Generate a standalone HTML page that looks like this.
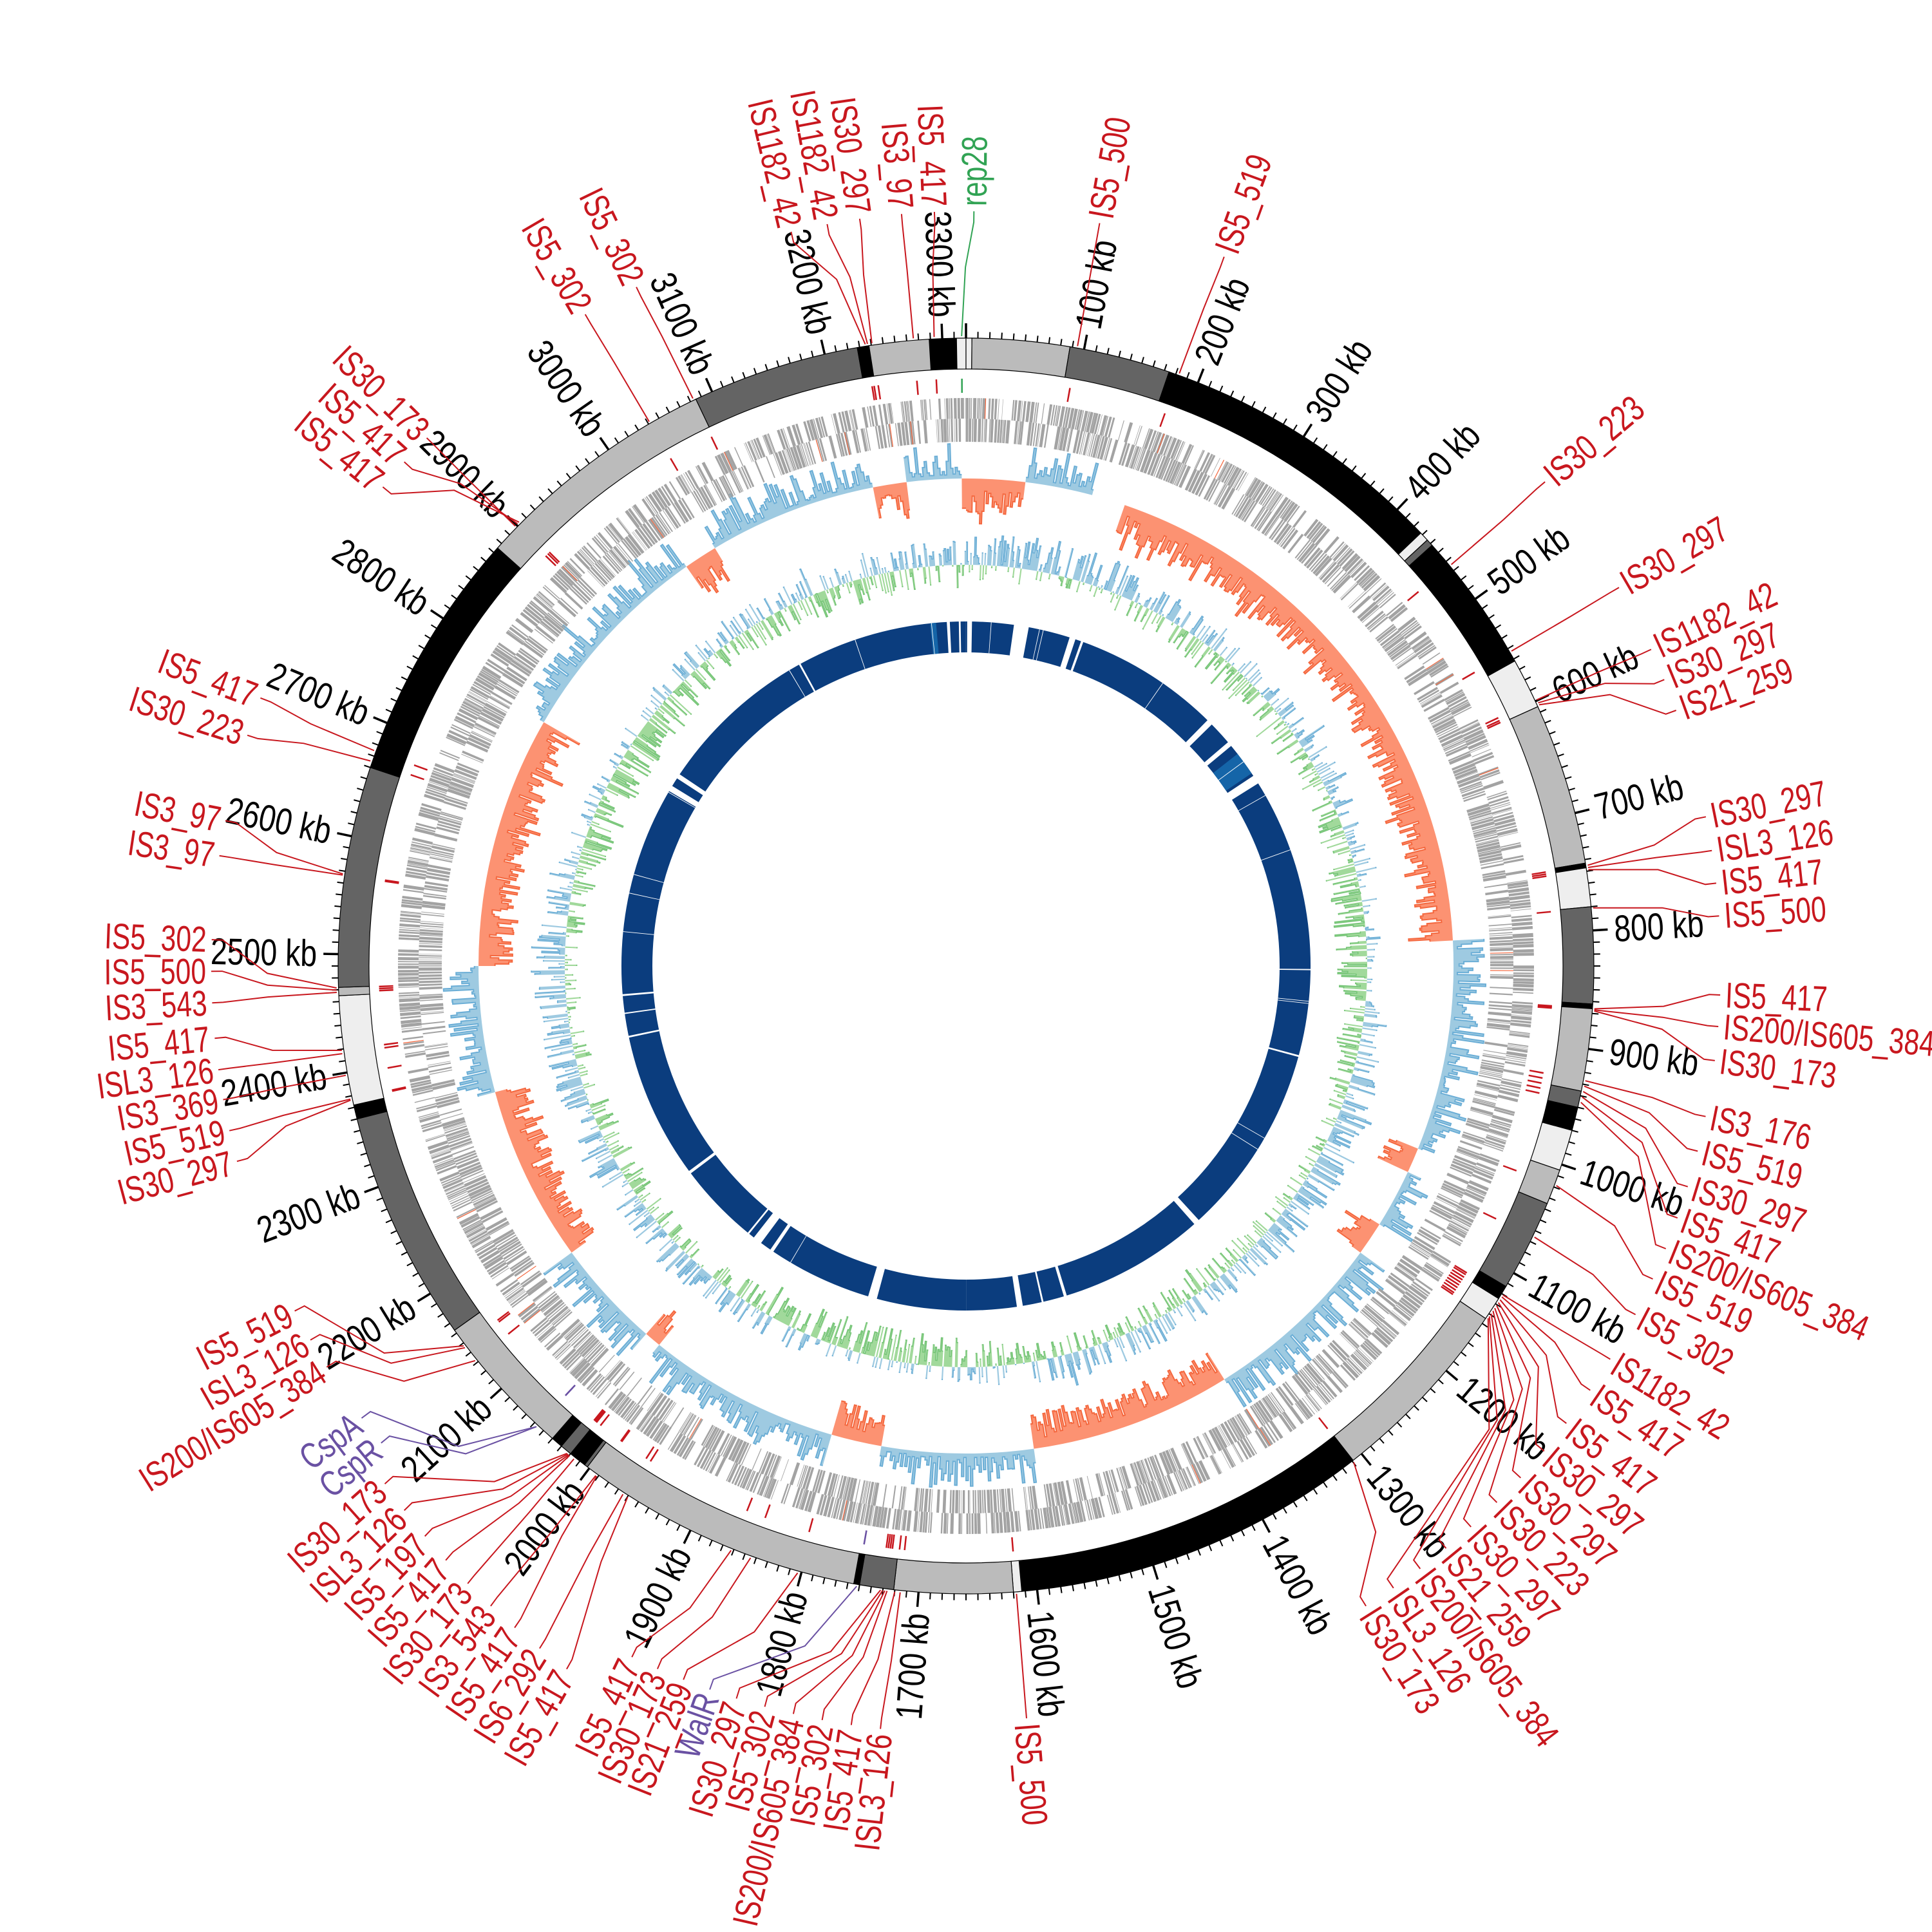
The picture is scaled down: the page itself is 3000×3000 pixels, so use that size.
<!DOCTYPE html>
<html><head><meta charset="utf-8">
<style>
html,body{margin:0;padding:0;background:#fff;}
svg{display:block;}
text{font-family:"Liberation Sans",sans-serif;}
</style></head>
<body>
<svg id="s" xmlns="http://www.w3.org/2000/svg" width="3000" height="3000" viewBox="0 0 3000 3000">
<rect width="3000" height="3000" fill="#fff"/>
</svg>
<script>
(function(){
var NS="http://www.w3.org/2000/svg";
var svg=document.getElementById('s');
var CX=1500,CY=1500,L=3320;
function rad(d){return d*Math.PI/180;}
function P(r,d){return [CX+r*Math.sin(rad(d)),CY-r*Math.cos(rad(d))];}
function f2(v){return v.toFixed(1);}
function el(tag,attrs,parent){var e=document.createElementNS(NS,tag);for(var k in attrs)e.setAttribute(k,attrs[k]);(parent||svg).appendChild(e);return e;}
function kb(k){return k/L*360;}
function sector(r1,r2,a1,a2){
  var p1=P(r2,a1),p2=P(r2,a2),p3=P(r1,a2),p4=P(r1,a1);var lg=(a2-a1)>180?1:0;
  return "M"+f2(p1[0])+","+f2(p1[1])+"A"+r2+","+r2+" 0 "+lg+" 1 "+f2(p2[0])+","+f2(p2[1])+"L"+f2(p3[0])+","+f2(p3[1])+"A"+r1+","+r1+" 0 "+lg+" 0 "+f2(p4[0])+","+f2(p4[1])+"Z";
}
var seed=12345;function rnd(){seed=(seed*16807)%2147483647;return (seed-1)/2147483646;}

var gNavy=el('g',{});var gInner=el('g',{});var gGC=el('g',{});var gGene=el('g',{});var gIS=el('g',{});var gIdeo=el('g',{});var gTick=el('g',{});var gLab=el('g',{});

var K='#000',D='#646464',G='#bbbbbb',W='#eeeeee';
var segs=[[3289,3312,K],[3312,3320,W],[0,5,W],[5,88,G],[88,174,D],[174,428,K],[428,436,W],[436,442,D],[442,562,K],[562,605,W],[605,743,G],[743,747,K],[747,780,W],[780,862,D],[862,866,K],[866,936,G],[936,950,D],[950,970,K],[970,1005,W],[1005,1035,G],[1035,1113,D],[1113,1125,K],[1125,1145,W],[1145,1309,G],[1309,1613,K],[1613,1620,W],[1620,1721,G],[1721,1750,D],[1750,1755,K],[1755,2002,G],[2002,2005,D],[2005,2020,K],[2020,2030,D],[2030,2040,K],[2040,2163,G],[2163,2360,D],[2360,2372,K],[2372,2465,W],[2465,2472,G],[2472,2660,D],[2660,2875,K],[2875,3085,G],[3085,3228,D],[3228,3238,K],[3238,3289,G]];
segs.forEach(function(s){el('path',{d:sector(927,975,kb(s[0]),kb(s[1])),fill:s[2],stroke:'#000','stroke-width':1.2},gIdeo);});

var tpMin="",tpMaj="";
for(var k=0;k<3320;k+=10){var a=kb(k);var major=(k%100==0);var p1=P(975,a),p2=P(major?998:985,a);var s="M"+f2(p1[0])+","+f2(p1[1])+"L"+f2(p2[0])+","+f2(p2[1]);if(major)tpMaj+=s;else tpMin+=s;}
el('path',{d:tpMin,stroke:'#000','stroke-width':2,fill:'none'},gTick);
el('path',{d:tpMaj,stroke:'#000','stroke-width':3.5,fill:'none'},gTick);
function radText(txt,r,a,col,size,g,sx){
  var aa=((a%360)+360)%360;var p=P(r,aa);var rot,anc;
  if(aa<180){rot=aa-90;anc='start';}else{rot=aa+90;anc='end';}
  var t=el('text',{transform:'translate('+f2(p[0])+','+f2(p[1])+') rotate('+f2(rot)+') scale('+sx+',1)','text-anchor':anc,'dominant-baseline':'central',fill:col,'font-size':size},g);
  t.textContent=txt;return t;
}
for(var k=100;k<=3300;k+=100){radText(k+" kb",1008,kb(k),'#000',58,gTick,0.8);}

el('path',{d:sector(487,535,0,179.99),fill:'#0b3d7e'},gNavy);
el('path',{d:sector(487,535,180,359.99),fill:'#0b3d7e'},gNavy);
el('path',{d:sector(487,535,52,56),fill:'#1565a8'},gNavy);
el('path',{d:sector(487,535,-6,-5),fill:'#1565a8'},gNavy);
var gaps=[[-3.2,-2.7],[-1.2,-0.9],[0.2,1.0],[8,10.5],[17.5,18.5],[19.5,19.9],[44.5,45.5],[49.5,50.3],[56.5,58],[90.5,90.7],[105,105.3],[137.5,138.5],[163,163.5],[167,167.3],[170.5,171.5],[195,196.5],[214,214.6],[216.5,218],[219,219.3],[233,233.5],[258,258.3],[262,262.2],[265,265.3],[300.5,301.5],[303,303.8],[331,331.3]];
gaps.forEach(function(g){el('path',{d:sector(480,540,g[0],g[1]),fill:'#fff'},gNavy);});
for(var i=0;i<20;i++){var a=rnd()*360;el('path',{d:sector(487,535,a,a+0.1),fill:'#fff'},gNavy);}

function histTrack(r0,N,valfn,posFill,posStroke,negFill,negStroke,g,sw){
  var vals=[];for(var i=0;i<N;i++)vals.push(valfn(i*360/N,i));
  function build(sign,fill,stroke){
    var d="",line="";var run=[];
    function flush(){
      if(run.length<1)return;
      var pts=[];run.forEach(function(o){pts.push(P(r0+o.v,o.a1),P(r0+o.v,o.a2));});
      var st=P(r0,run[0].a1);
      var s="M"+f2(st[0])+","+f2(st[1]);
      var l="M"+f2(pts[0][0])+","+f2(pts[0][1]);
      pts.forEach(function(q){s+="L"+f2(q[0])+","+f2(q[1]);l+="L"+f2(q[0])+","+f2(q[1]);});
      var e=P(r0,run[run.length-1].a2);s+="L"+f2(e[0])+","+f2(e[1])+"A"+r0+","+r0+" 0 0 0 "+f2(st[0])+","+f2(st[1])+"Z";
      d+=s;line+=l;run=[];
    }
    for(var i=0;i<N;i++){var v=vals[i];var a1=i*360/N,a2=(i+1)*360/N;
      if(v*sign>0){run.push({v:v,a1:a1,a2:a2});}else flush();}
    flush();
    el('path',{d:d,fill:fill,stroke:'none'},g);
    el('path',{d:line,fill:'none',stroke:stroke,'stroke-width':sw},g);
  }
  build(1,posFill,posStroke);build(-1,negFill,negStroke);
}
var regs=[[-7,-0.5,1],[-0.5,7,-1],[7,15,1],[15,19,0],[19,87,-1],[87,112,1],[112,115,-1],[115,122,1],[122,126,-1],[126,148,1],[148,172,-1],[172,190,1],[190,196,-1],[196,219,1],[219,221,-1],[221,234,1],[234,255,-1],[255,270,1],[270,300,-1],[300,325,1],[325,329,-1],[329,349,1],[349,353,-1],[353,360,1]];
function sgn(a){var aa=a>353?a-360:a;for(var i=0;i<regs.length;i++){if(aa>=regs[i][0]&&aa<regs[i][1])return regs[i][2];}return 1;}
histTrack(757,1440,function(a,i){var s=sgn(a);if(s==0)return 0;
  var m=rnd();var v;
  if(s>0){v=6+m*m*50;if(rnd()<0.12)v+=rnd()*20;return Math.min(v,62);}
  v=15+m*40;if(rnd()<0.12)v+=rnd()*25;return -Math.min(v,70);},'#9ecae1','#6baed6','#fc9272','#f4683f',gGC,2);
histTrack(623,1800,function(a,i){var b=Math.sin(rad(a)*3+1)*0.3+Math.sin(rad(a)*7)*0.2;var v=(rnd()-0.5+b*0.5);var m=Math.abs(v)*70;if(rnd()<0.06)m*=1.5;return v>=0?Math.min(m,52):-Math.min(m,48);},'#9ecae1','#6baed6','#a1d99b','#74c476',gInner,1.6);

function geneRow(r1,r2){var d="";var a=0;while(a<360){var w=0.04+rnd()*0.3;var gap=rnd()<0.2?rnd()*1.0:0.03+rnd()*0.12;if(rnd()<0.93)d+=sector(r1,r2,a,a+w);a+=w+gap;}
  el('path',{d:d,fill:'#a3a3a3',stroke:'none'},gGene);}
geneRow(850,882);geneRow(814,850);
for(var i=0;i<25;i++){var a=rnd()*360;var o=rnd()<0.5;el('path',{d:sector(o?850:814,o?882:850,a,a+0.08),fill:'#f4683f'},gGene);}

var R='#c8171e',PU='#6a51a3',GR='#31a354';
var labs=[
['rep28',-0.4,0.6,GR],['IS5_417',-2.9,-2.4],['IS3_97',-4.8,-4.9],['IS30_297',-8.6,-8.1],['IS1182_42',-9.0,-10.6],['IS1182_42',-9.2,-13.4],
['IS5_500',10.2,10.2],['IS5_519',19.8,20],['IS5_302',-25.7,-25.9],['IS5_302',-30.2,-30.3],
['IS30_173',-45.7,-45.6],['IS5_417',-45.4,-48.1],['IS5_417',-45.2,-50.6],
['IS30_223',50.4,50.1],['IS30_297',60,59.9],['IS1182_42',65,65.2],['IS30_297',65.3,67.7],['IS21_259',65.5,70.2],
['IS30_297',80.8,78.6],['ISL3_126',81,81.2],['IS5_417',81.2,83.7],['IS5_500',84.7,86.2],
['IS5_417',93.9,92.2],['IS200/IS605_384',94,94.6],['IS30_173',94.1,97.2],
['IS3_176',100.5,101.5],['IS5_519',101,104.2],['IS30_297',101.5,107],['IS5_417',102,109.5],['IS200/IS605_384',102.5,112],['IS5_519',110.4,114.5],['IS5_302',115.5,117.5],
['IS1182_42',121.5,121.4],['IS5_417',121.7,124.2],['IS5_417',122,127.3],['IS30_297',122.3,130],['IS30_297',122.6,132.7],['IS30_223',122.9,135.3],['IS30_297',123.2,138],['IS21_259',123.5,140.5],['IS200/IS605_384',123.8,143],['ISL3_126',124,145.5],['IS30_173',142,148],
['IS5_500',175.4,175.4],
['ISL3_126',186,186.4],['IS5_417',186.5,188.6],['IS5_302',187.2,190.8],['IS200/IS605_384',187.4,193],['IS5_302',187.6,195.2],['IS30_297',187.8,197.4],['WalR',190,199.5,PU],['IS21_259',195.5,201.6],['IS30_173',200,203.7],['IS5_417',201.9,205.8],
['IS5_417',212.5,209.6],['IS6_292',213,212],['IS5_417',215.9,214.3],['IS3_543',216,216.6],['IS30_173',218.5,218.9],['IS5_417',219,221.2],['IS5_197',219.1,223.5],['ISL3_126',219.2,225.9],['IS30_173',219.3,228.3],
['CspR',223,230.8,PU],['CspA',223,233.2,PU],['IS200/IS605_384',231.2,237.9],['ISL3_126',232.7,240.3],['IS5_519',232.9,242.8],
['IS30_297',257.7,255],['IS5_519',257.8,257.4],['IS3_369',260,259.8],['ISL3_126',262,262.1],['IS5_417',262.3,264.5],['IS3_543',267.6,267.2],['IS5_500',267.8,269.6],['IS5_302',268,272],
['IS3_97',278.3,278.4],['IS3_97',278.4,281.1],['IS30_223',289,287.8],['IS5_417',290,290.8]
];
labs.forEach(function(L1){
  var f=L1[1],l=L1[2],col=L1[3]||R;
  var rL=1180; if(l>=207&&l<=229)rL=1215+(229-l)*2.5; if(l>=184&&l<207)rL=1200;
  var a=P(978,f),b=P(1085,f+(l-f)*0.35),c=P(rL-25,l),d2=P(rL-8,l);
  el('path',{d:"M"+f2(a[0])+","+f2(a[1])+"L"+f2(b[0])+","+f2(b[1])+"L"+f2(c[0])+","+f2(c[1])+"L"+f2(d2[0])+","+f2(d2[1]),fill:'none',stroke:col,'stroke-width':2},gLab);
  el('path',{d:sector(890,912,f-0.08,f+0.08),fill:col},gIS);
  radText(L1[0],rL,l,col,56,gLab,0.76);
});
})();
</script>
</body></html>
